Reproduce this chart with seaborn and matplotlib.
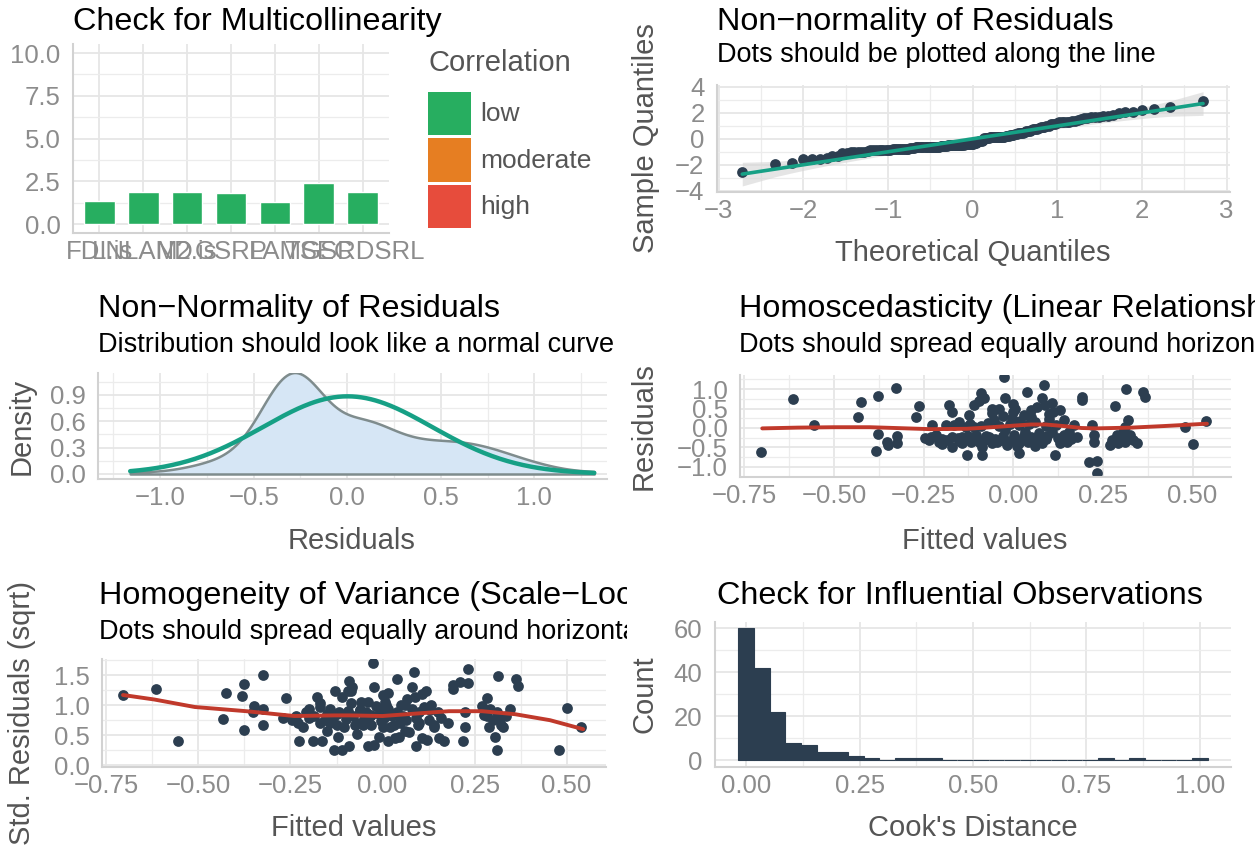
import numpy as np
import pandas as pd
import seaborn as sns
import matplotlib
matplotlib.use("Agg")
import matplotlib.pyplot as plt
from matplotlib.patches import Rectangle
from matplotlib.ticker import MultipleLocator, FuncFormatter
from matplotlib.transforms import Bbox, TransformedBbox
from statistics import NormalDist

# ---- data ----
vif_terms = ["FDI.is", "LNLAND", "M2.is", "GSRP", "LAM", "TSEC", "GSRDSRL"]
vif_values = [1.35, 1.85, 1.85, 1.79, 1.29, 2.40, 1.85]
corr_levels = ["low", "moderate", "high"]
corr_colors = ["#27ae60", "#e67e22", "#e74c3c"]

fitted = [
    -0.704, -0.614, -0.556, -0.424, -0.432, -0.376, -0.326, -0.376, -0.352, -0.348, -0.324, -0.324, -0.383,
    -0.263, -0.270, -0.179, -0.170, -0.226, -0.230, -0.207, -0.216, -0.188, -0.165, -0.170, -0.170, -0.133,
    -0.128, -0.110, -0.124, -0.110, -0.091, -0.082, -0.095, -0.142, -0.142, -0.119, -0.105, -0.087, -0.087,
    -0.059, -0.040, -0.054, -0.026, -0.024, -0.068, -0.045, -0.017, -0.022, -0.003, 0.006, 0.015, 0.001,
    0.015, 0.015, 0.029, 0.038, 0.048, 0.034, 0.048, 0.071, 0.080, 0.066, 0.085, 0.080, 0.088, 0.108,
    0.112, 0.131, 0.117, 0.108, 0.140, 0.140, 0.150,
    0.168, 0.154, 0.179, 0.191, 0.191, 0.219, 0.224, 0.224, 0.210, 0.233, 0.233, 0.284, 0.313, 0.363,
    0.367, 0.321, 0.312, 0.288, 0.270, 0.293, 0.312, 0.326, 0.346, 0.284, 0.478, 0.500, 0.538,
    -0.245, -0.235, -0.200, -0.185, -0.155, -0.150, -0.135, -0.125, -0.100, -0.095, -0.080, -0.075, -0.060,
    -0.050, -0.035, -0.030, -0.010, 0.005, 0.010, 0.025, 0.030, 0.040, 0.055, 0.060, 0.065, 0.090, 0.095,
    0.125, 0.130, 0.160,
    -0.150, -0.120, -0.090, -0.070, -0.040, -0.010, 0.020, 0.045, 0.060, 0.090, 0.100, 0.120,
    -0.060, -0.030, 0.000, 0.050, 0.100,
    0.300, 0.318, 0.305, 0.335, 0.275, -0.200, 0.000,
]
residuals = [
    -0.61, 0.735, 0.077, 0.66, 0.27, 0.82, 1.03, -0.154, -0.35, -0.44, -0.20, -0.39, -0.59,
    0.57, 0.28, 0.59, 0.42, 0.077, -0.22, -0.35, -0.18, 0.077, 0.077, -0.22, -0.48, 0.03,
    -0.69, 0.03, 0.33, 0.59, 0.89, 0.76, 0.69, -0.22, -0.39, -0.35, -0.18, -0.48, -0.69,
    0.50, 0.50, 0.20, 1.32, 0.76, -0.22, -0.35, -0.44, -0.05, 0.25, 0.50, 0.077, -0.18,
    -0.39, -0.65, 0.33, 0.93, 0.29, -0.09, -0.22, -0.14, -0.39, 0.55, 1.10, 0.76, 0.59, 0.63,
    0.42, 0.46, -0.69, -0.09, 0.20, -0.18, -0.35,
    0.077, -0.09, -0.22, 0.80, 0.72, 0.077, -0.18, -0.35, -0.86, -0.84, -1.16, 0.57, 0.99, 0.93,
    0.79, 0.20, 0.03, -0.18, -0.44, -0.39, -0.35, -0.18, -0.39, -0.30, 0.03, -0.41, 0.18,
    -0.25, -0.30, -0.28, -0.30, -0.26, -0.33, -0.28, -0.20, -0.27, -0.36, -0.30, -0.20, -0.38,
    -0.27, -0.30, -0.20, -0.33, -0.28, -0.45, -0.30, -0.20, -0.35, -0.30, -0.45, -0.25, -0.28, -0.20,
    -0.25, -0.38, -0.28,
    0.15, 0.10, 0.05, 0.12, 0.05, 0.10, 0.18, 0.10, 0.15, 0.05, 0.22, 0.08,
    0.38, 0.32, 0.40, 0.45, 0.35,
    -0.25, -0.28, -0.10, -0.30, -0.32, -0.40, 0.62,
]

resid_smooth_x = [-0.70, -0.60, -0.50, -0.40, -0.33, -0.23, -0.13, -0.06, 0.0, 0.05, 0.09, 0.14, 0.19, 0.23, 0.33, 0.42, 0.54]
resid_smooth_y = [-0.01, 0.01, 0.02, 0.02, 0.0, -0.03, -0.02, 0.02, 0.06, 0.09, 0.09, 0.05, 0.0, -0.01, 0.01, 0.05, 0.11]

scale_smooth_x = [-0.705, -0.62, -0.51, -0.37, -0.24, -0.13, -0.09, 0.0, 0.09, 0.18, 0.27, 0.36, 0.455, 0.545]
scale_smooth_y = [1.17, 1.095, 0.97, 0.90, 0.82, 0.83, 0.83, 0.82, 0.86, 0.90, 0.90, 0.85, 0.75, 0.60]

cook_counts = [60, 42, 22, 8, 7, 4, 4, 2, 1, 0, 1, 1, 1, 0, 0, 0, 0, 0, 0, 0, 0, 0, 0, 1, 0, 1, 0, 0, 0, 1]

# ---- colours / theme ----
navy = "#2c3e50"
teal = "#16a085"
red = "#c0392b"
tick_col = "#8c8c8c"
lab_col = "#555555"
T_SIZE, S_SIZE, L_SIZE, K_SIZE = 23.3, 19.5, 21, 18.5

sns.set_theme(style="white")
plt.rcParams["font.family"] = ["Liberation Sans", "DejaVu Sans"]

W, H = 1255, 846
fig = plt.figure(figsize=(W / 100, H / 100), dpi=100)


def rect(l, t, r, b):
    return [l / W, 1 - b / H, (r - l) / W, (b - t) / H]


def fmt(dec):
    def f(v, pos):
        if abs(v) < 1e-9:
            v = 0.0
        return f"{v:.{dec}f}".replace("-", "\u2212")
    return FuncFormatter(f)


def style(ax, xstep, ystep, xdec, ydec):
    ax.set_axisbelow(True)
    if xstep is not None:
        ax.xaxis.set_major_locator(MultipleLocator(xstep))
        ax.xaxis.set_minor_locator(MultipleLocator(xstep / 2))
        ax.xaxis.set_major_formatter(fmt(xdec))
    ax.yaxis.set_major_locator(MultipleLocator(ystep))
    ax.yaxis.set_minor_locator(MultipleLocator(ystep / 2))
    ax.yaxis.set_major_formatter(fmt(ydec))
    ax.grid(which="major", color="#e6e6e6", lw=1.3)
    ax.grid(which="minor", color="#ececec", lw=0.9)
    for s in ["top", "right"]:
        ax.spines[s].set_visible(False)
    for s in ["left", "bottom"]:
        ax.spines[s].set_color("#d2d2d2")
        ax.spines[s].set_linewidth(1.5)
    ax.tick_params(which="both", length=0, labelsize=K_SIZE, labelcolor=tick_col)
    ax.tick_params(axis="y", pad=9)
    ax.tick_params(axis="x", pad=5)
    ax.set_xlabel("")
    ax.set_ylabel("")


clip_left = TransformedBbox(Bbox([[0, 0], [627 / W, 1]]), fig.transFigure)


def ftext(x, y, s, size, color="black", ha="left", rot=0, clip=False):
    t = fig.text(x / W, 1 - y / H, s, fontsize=size, color=color, ha=ha, va="center", rotation=rot)
    if clip:
        t.set_clip_on(True)
        t.set_clip_box(clip_left)
    return t


# ---- 1: multicollinearity ----
ax1 = fig.add_axes(rect(73, 44.5, 389, 232.6))
sns.barplot(x=vif_terms, y=vif_values, color=corr_colors[0], saturation=1, width=0.7, ax=ax1)
style(ax1, None, 2.5, 0, 1)
ax1.grid(which="minor", axis="x", visible=False)
ax1.set_xlim(-0.6, 6.6)
ax1.set_ylim(-0.5, 10.5)
ftext(73, 22, "Check for Multicollinearity", T_SIZE, clip=True)
ftext(428, 63, "Correlation", L_SIZE, color=lab_col)
for i, (lev, col) in enumerate(zip(corr_levels, corr_colors)):
    top = 92 + i * 46.5
    fig.add_artist(Rectangle((428 / W, 1 - (top + 43) / H), 43 / W, 43 / H,
                             transform=fig.transFigure, facecolor=col, edgecolor="none"))
    ftext(480, top + 22, lev, 19, color=lab_col)

# ---- 2: QQ plot (identity reference line with pointwise band) ----
ax2 = fig.add_axes(rect(717, 85, 1230, 192))
res = np.array(residuals)
std_res = (res - res.mean()) / res.std(ddof=1)
n = len(std_res)
nd = NormalDist()
probs = (np.arange(n) + 0.5) / n
theo = np.array([nd.inv_cdf(p) for p in probs])
sample = np.sort(std_res)
dens = np.array([nd.pdf(z) for z in theo])
se = np.sqrt(probs * (1 - probs) / n) / dens
ax2.fill_between(theo, theo - 1.96 * se, theo + 1.96 * se, color="#d5d5d5", alpha=0.6, lw=0)
sns.lineplot(x=theo, y=theo, color=teal, lw=2.6, ax=ax2)
sns.scatterplot(x=theo, y=sample, color=navy, s=60, linewidth=0, ax=ax2)
style(ax2, 1, 2, 0, 0)
ax2.set_xlim(-3.02, 3.04)
ax2.set_ylim(-4.1, 4.15)
ftext(717, 22, "Non\u2212normality of Residuals", T_SIZE)
ftext(717, 55, "Dots should be plotted along the line", S_SIZE)
ftext(973, 253, "Theoretical Quantiles", L_SIZE, color=lab_col, ha="center")
ftext(646, 138, "Sample Quantiles", L_SIZE, color=lab_col, ha="center", rot=90)

# ---- 3: density of residuals ----
ax3 = fig.add_axes(rect(98, 373, 607, 479))
sns.kdeplot(x=res, fill=True, cut=0, bw_adjust=0.85, color="#7f8c8d", linewidth=1.8, ax=ax3)
poly = ax3.collections[0]
poly.set_alpha(None)
poly.set_facecolor((0.84, 0.9, 0.96, 1.0))
poly.set_edgecolor("#7f8c8d")
xs = np.linspace(res.min(), res.max(), 300)
sd = res.std(ddof=1)
ys = np.exp(-0.5 * ((xs - res.mean()) / sd) ** 2) / (sd * np.sqrt(2 * np.pi))
sns.lineplot(x=xs, y=ys, color=teal, lw=3.2, ax=ax3)
style(ax3, 0.5, 0.3, 1, 1)
ax3.set_xlim(-1.332, 1.388)
ax3.set_ylim(-0.057, 1.15)
ftext(98, 309, "Non\u2212Normality of Residuals", T_SIZE, clip=True)
ftext(98, 345, "Distribution should look like a normal curve", S_SIZE, clip=True)
ftext(352, 541, "Residuals", L_SIZE, color=lab_col, ha="center")
ftext(22, 426, "Density", L_SIZE, color=lab_col, ha="center", rot=90)

# ---- 4: homoscedasticity ----
ax4 = fig.add_axes(rect(740, 374.6, 1231, 477.5))
sns.scatterplot(x=fitted, y=residuals, color=navy, s=60, linewidth=0, ax=ax4)
sns.lineplot(x=resid_smooth_x, y=resid_smooth_y, color=red, lw=2.8, ax=ax4)
style(ax4, 0.25, 0.5, 2, 1)
ax4.set_xlim(-0.762, 0.607)
ax4.set_ylim(-1.27, 1.37)
ftext(739, 309, "Homoscedasticity (Linear Relationship)", T_SIZE)
ftext(739, 345, "Dots should spread equally around horizontal line", S_SIZE)
ftext(985, 541, "Fitted values", L_SIZE, color=lab_col, ha="center")
ftext(644, 426, "Residuals", L_SIZE, color=lab_col, ha="center", rot=90)

# ---- 5: scale-location ----
ax5 = fig.add_axes(rect(102, 659, 606, 767))
sns.scatterplot(x=fitted, y=np.sqrt(np.abs(std_res)), color=navy, s=60, linewidth=0, ax=ax5)
sns.lineplot(x=scale_smooth_x, y=scale_smooth_y, color=red, lw=2.8, ax=ax5)
style(ax5, 0.25, 0.5, 2, 1)
ax5.set_xlim(-0.762, 0.607)
ax5.set_ylim(-0.03, 1.77)
ftext(99, 596, "Homogeneity of Variance (Scale\u2212Location)", T_SIZE, clip=True)
ftext(99, 632, "Dots should spread equally around horizontal line", S_SIZE, clip=True)
ftext(354, 828, "Fitted values", L_SIZE, color=lab_col, ha="center")
ftext(22, 713, "Std. Residuals (sqrt)", L_SIZE, color=lab_col, ha="center", rot=90)

# ---- 6: cook's distance ----
ax6 = fig.add_axes(rect(715, 622, 1231, 767))
bw = 1.0 / 29
cook = pd.DataFrame({"dist": np.arange(len(cook_counts)) * bw, "n": cook_counts})
edges = [float(c - bw / 2) for c in cook["dist"]] + [float(cook["dist"].iloc[-1] + bw / 2)]
sns.histplot(data=cook, x="dist", weights="n", bins=edges, color=navy, alpha=1,
             edgecolor=navy, linewidth=0.8, ax=ax6)
style(ax6, 0.25, 20, 2, 0)
ax6.set_xlim(-0.069, 1.069)
ax6.set_ylim(-3, 62.9)
ftext(717, 596, "Check for Influential Observations", T_SIZE)
ftext(973, 828, "Cook's Distance", L_SIZE, color=lab_col, ha="center")
ftext(644, 694, "Count", L_SIZE, color=lab_col, ha="center", rot=90)

fig.savefig("out.png", dpi=100)
